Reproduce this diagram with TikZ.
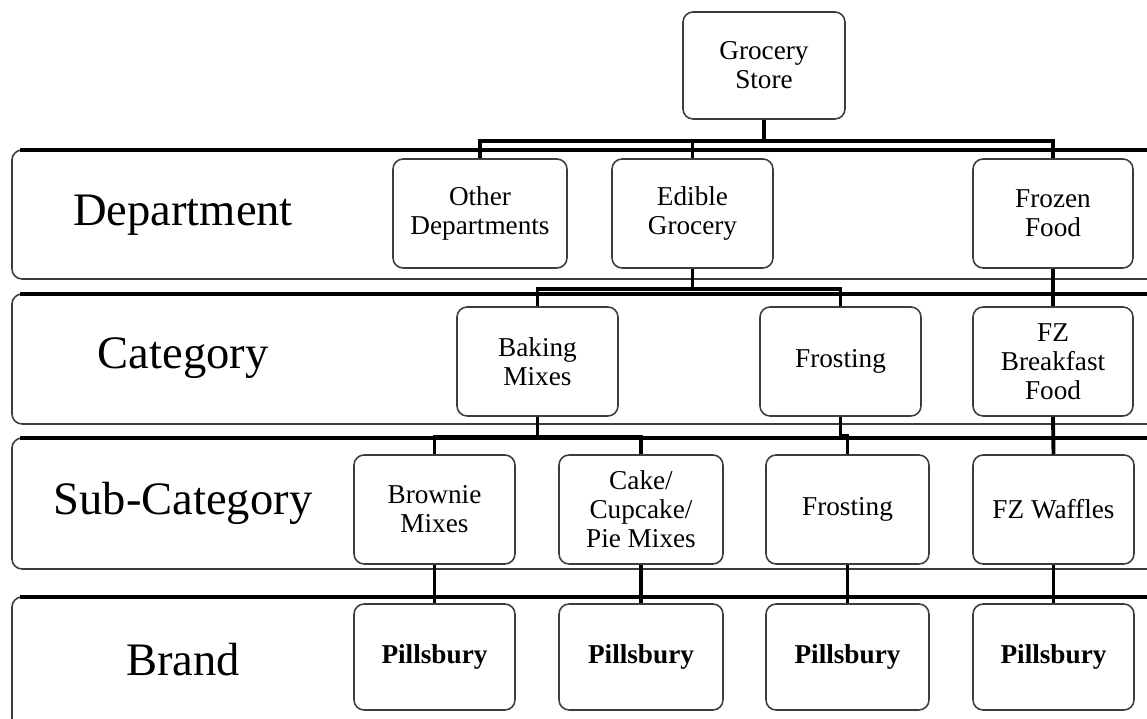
\documentclass[tikz,border=0pt]{standalone}
\usepackage{fontspec}
\setmainfont{Liberation Serif}
\usetikzlibrary{calc}
\definecolor{edgegray}{RGB}{60,60,60}

\begin{document}
\begin{tikzpicture}[x=0.02cm,y=0.02cm, line cap=round, line join=round]

\tikzset{
  level/.style={draw=edgegray, line width=0.9pt, rounded corners=5.7pt},
  leveltop/.style={draw=black, line width=1.8pt, line cap=butt},
  levellabel/.style={font=\fontsize{26.5}{30}\selectfont},
  box/.style={draw=edgegray, fill=white, rounded corners=5.7pt, line width=0.9pt, align=center,
    minimum width=3.22cm, minimum height=2.18cm, inner sep=2pt, font=\fontsize{15.5}{16.6}\selectfont},
  brandbox/.style={box, minimum height=2.12cm, font=\fontsize{15.5}{16.6}\selectfont\bfseries},
  link/.style={draw=black, line width=2.2pt, line cap=butt, line join=miter}
}

\useasboundingbox (0,0) rectangle (1147,719);
\clip (0,0) rectangle (1147,719);

% level bands
\draw[level] (1200,569) -- (12,569) -- (12,440) -- (1200,440);
\draw[leveltop] (20,569) -- (1200,569);
\draw[level] (1200,425) -- (12,425) -- (12,295) -- (1200,295);
\draw[leveltop] (20,425) -- (1200,425);
\draw[level] (1200,281) -- (12,281) -- (12,150) -- (1200,150);
\draw[leveltop] (20,281) -- (1200,281);
\draw[level] (1200,122) -- (12,122) -- (12,-40);
\draw[leveltop] (20,122) -- (1200,122);

\node[levellabel] (ldept) at (183,504) {Department};
\node[levellabel] (lcat) at (183,361) {Category};
\node[levellabel] (lsub) at (183,216) {Sub-Category};
\node[levellabel] (lbrand) at (183,59) {Brand};

% hierarchy
\node[box, minimum width=3.24cm, minimum height=2.14cm] (store) at (764,653.5) {Grocery\\Store};

\node[box, minimum width=3.48cm] (other) at (480,505.5) {Other\\Departments};
\node[box] (edible) at (692.5,505.5) {Edible\\Grocery};
\node[box, minimum width=3.2cm] (frozen) at (1053,505.5) {Frozen\\Food};

\node[box] (baking) at (537.5,357.5) {Baking\\Mixes};
\node[box] (frostcat) at (840.5,357.5) {Frosting};
\node[box, minimum width=3.2cm] (fzbreak) at (1053,357.5) {FZ\\Breakfast\\Food};

\node[box] (brownie) at (434.5,209.5) {Brownie\\Mixes};
\node[box, minimum width=3.28cm] (cake) at (641,209.5) {Cake/\\Cupcake/\\Pie Mixes};
\node[box, minimum width=3.26cm] (frostsub) at (847.5,209.5) {Frosting};
\node[box] (waffles) at (1053.5,209.5) {FZ Waffles};

\node[brandbox] (p1) at (434.5,62) {Pillsbury};
\node[brandbox, minimum width=3.28cm] (p2) at (641,62) {Pillsbury};
\node[brandbox, minimum width=3.26cm] (p3) at (847.5,62) {Pillsbury};
\node[brandbox] (p4) at (1053.5,62) {Pillsbury};

% connectors
\draw[link] (store.south) -- ++(0,-21) -| (other.north);
\draw[link] (store.south) -- ++(0,-21) -| (frozen.north);
\draw[link] (store.south) -- ++(0,-21) -| (edible.north);

\draw[link] (edible.south) -- ++(0,-20) -| (baking.north);
\draw[link] (edible.south) -- ++(0,-20) -| (frostcat.north);
\draw[link] (frozen.south) -- (fzbreak.north);

\draw[link] (baking.south) -- ++(0,-20) -| (brownie.north);
\draw[link] (baking.south) -- ++(0,-20) -| (cake.north);
\draw[link] (frostcat.south) -- ++(0,-19) -| (frostsub.north);
\draw[link] (fzbreak.south) -- (waffles.north);

\draw[link] (brownie.south) -- (p1.north);
\draw[link] (cake.south) -- (p2.north);
\draw[link] (frostsub.south) -- (p3.north);
\draw[link] (waffles.south) -- (p4.north);

\end{tikzpicture}
\end{document}
